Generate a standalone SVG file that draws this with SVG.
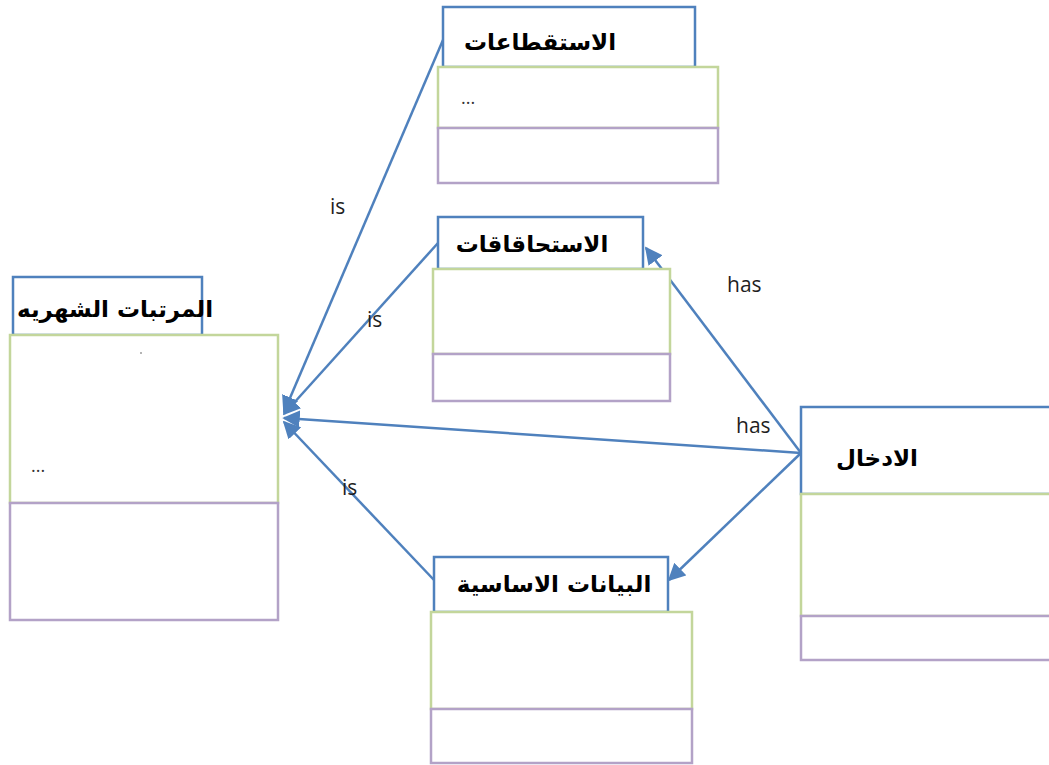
<svg xmlns="http://www.w3.org/2000/svg" width="1049" height="765" viewBox="0 0 1049 765">
  <defs>
    <style>
      .hdr { fill: #ffffff; stroke: #4f81bd; stroke-width: 2.5; }
      .att { fill: #ffffff; stroke: #c3d69b; stroke-width: 2.5; }
      .ops { fill: #ffffff; stroke: #b3a2c7; stroke-width: 2.5; }
      .title { font-family: "DejaVu Sans", "Noto Sans", sans-serif; font-weight: bold; font-size: 23px; fill: #000000; text-anchor: middle; }
      .lbl { font-family: "Open Sans", "DejaVu Sans", sans-serif; font-size: 21px; fill: #1f1f1f; }
      .dots { font-family: "Open Sans", "DejaVu Sans", sans-serif; font-size: 18px; fill: #333333; }
      .conn { stroke: #4f81bd; stroke-width: 2.5; fill: none; marker-end: url(#arrow); }
    </style>
    <marker id="arrow" viewBox="0 0 10 10" refX="9" refY="5" markerWidth="7" markerHeight="7" orient="auto" markerUnits="strokeWidth">
      <path d="M0,0 L10,5 L0,10 z" fill="#4f81bd"/>
    </marker>
  </defs>

  <rect width="1049" height="765" fill="#ffffff"/>

  <!-- connectors -->
  <g id="connectors">
    <line class="conn" x1="443" y1="40" x2="284" y2="412"/>
    <line class="conn" x1="438" y1="243" x2="284" y2="414"/>
    <line class="conn" x1="434" y1="580" x2="284" y2="422"/>
    <line class="conn" x1="801" y1="453" x2="284" y2="418"/>
    <line class="conn" x1="801" y1="453" x2="646" y2="248"/>
    <line class="conn" x1="801" y1="453" x2="669" y2="580"/>
    <text class="lbl" x="330" y="214">is</text>
    <text class="lbl" x="367" y="327">is</text>
    <text class="lbl" x="342" y="495">is</text>
    <text class="lbl" x="727" y="292">has</text>
    <text class="lbl" x="736" y="433">has</text>
  </g>

  <!-- deductions -->
  <g id="node-deductions">
    <rect class="hdr" x="443" y="7" width="252" height="60"/>
    <rect class="att" x="438" y="67" width="280" height="61"/>
    <rect class="ops" x="438" y="128" width="280" height="55"/>
    <text class="title" x="540" y="50">الاستقطاعات</text>
    <text class="dots" x="461" y="104">...</text>
  </g>

  <!-- entitlements -->
  <g id="node-entitlements">
    <rect class="hdr" x="438" y="217" width="205" height="52"/>
    <rect class="att" x="433" y="269" width="237" height="85"/>
    <rect class="ops" x="433" y="354" width="237" height="47"/>
    <text class="title" x="532" y="252">الاستحاقاقات</text>
  </g>

  <!-- monthly salaries -->
  <g id="node-salaries">
    <rect class="hdr" x="13" y="277" width="189" height="58"/>
    <rect class="att" x="10" y="335" width="268" height="168"/>
    <rect class="ops" x="10" y="503" width="268" height="117"/>
    <text class="title" x="115" y="317">المرتبات الشهريه</text>
    <text class="dots" x="31" y="472">...</text>
    <circle cx="141" cy="353" r="0.8" fill="#555555"/>
  </g>

  <!-- data entry -->
  <g id="node-entry">
    <rect class="hdr" x="801" y="407" width="270" height="87"/>
    <rect class="att" x="801" y="494" width="270" height="122"/>
    <rect class="ops" x="801" y="616" width="270" height="44"/>
    <text class="title" x="877" y="466">الادخال</text>
  </g>

  <!-- master data -->
  <g id="node-master">
    <rect class="hdr" x="434" y="557" width="234" height="55"/>
    <rect class="att" x="431" y="612" width="261" height="97"/>
    <rect class="ops" x="431" y="709" width="261" height="54"/>
    <text class="title" x="554" y="592">البيانات الاساسية</text>
  </g>
</svg>
